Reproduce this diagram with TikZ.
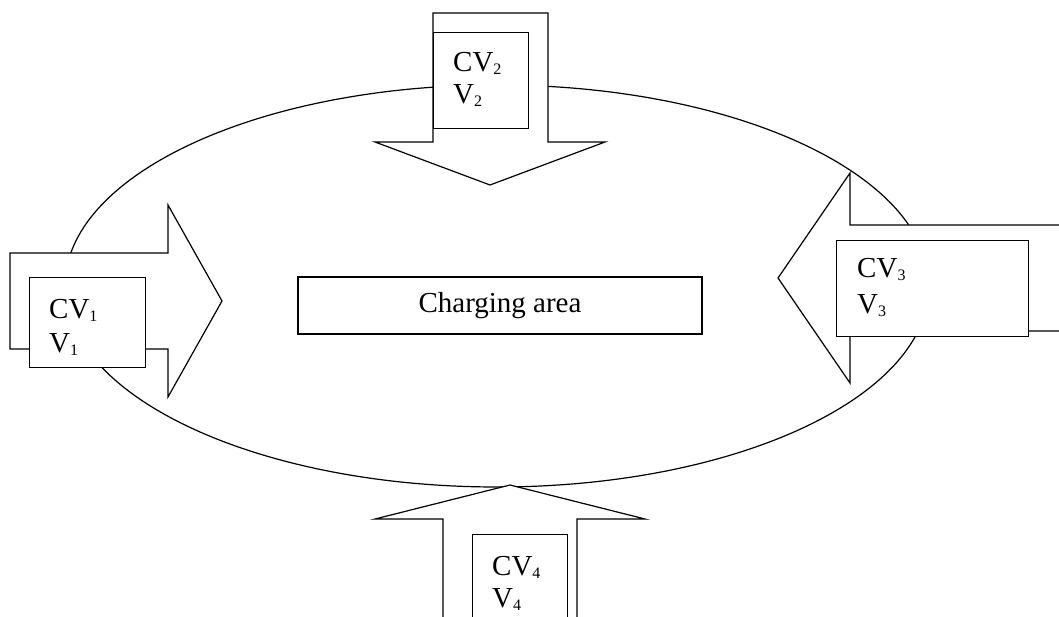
\documentclass[tikz,border=0pt]{standalone}
\usepackage{fontspec}
\setmainfont{Liberation Serif}
\newcommand\subn[1]{\raisebox{-3pt}{\fontsize{16}{16}\selectfont #1}}
\begin{document}
\begin{tikzpicture}[x=1pt,y=-1pt,line join=miter,
  outline/.style={draw=black,line width=1.2pt,fill=white},
  cvbox/.style={outline,inner sep=0pt,anchor=north west,minimum height=96pt},
  cvtext/.style={anchor=base west,inner sep=0pt,font=\fontsize{29}{34}\selectfont}]
\useasboundingbox (0,0) rectangle (1059,617);
\clip (0,0) rectangle (1059,617);
% ellipse
\draw[line width=1.2pt] (497,286) ellipse [x radius=432pt,y radius=201pt];
% arrow 1 (right)
\draw[outline] (10,253) -- (168,253) -- (168,205) -- (222,301) -- (168,397) -- (168,349) -- (10,349) -- cycle;
\node[cvbox,minimum width=116pt,minimum height=90pt] (cv1) at (29,277) {};
\node[cvtext] (cv1a) at (49,318) {CV\subn{1}};
\node[cvtext] (cv1b) at (49,352) {V\subn{1}};
% arrow 2 (down)
\draw[outline] (433,13) -- (548,13) -- (548,142) -- (605,142) -- (490,185) -- (375,142) -- (433,142) -- cycle;
\node[cvbox,minimum width=95pt] (cv2) at (433,32) {};
\node[cvtext] (cv2a) at (453,72) {CV\subn{2}};
\node[cvtext] (cv2b) at (453,104) {V\subn{2}};
% arrow 3 (left)
\draw[outline] (1070,225) -- (850,225) -- (850,173) -- (778,278) -- (850,383) -- (850,331) -- (1070,331);
\node[cvbox,minimum width=192pt] (cv3) at (836,240) {};
\node[cvtext] (cv3a) at (857,278) {CV\subn{3}};
\node[cvtext] (cv3b) at (857,313) {V\subn{3}};
% arrow 4 (up)
\draw[outline] (443,630) -- (443,519) -- (375,519) -- (510,485) -- (645,519) -- (577,519) -- (577,630);
\node[cvbox,minimum width=95pt,minimum height=100pt] (cv4) at (472,534) {};
\node[cvtext] (cv4a) at (492,575) {CV\subn{4}};
\node[cvtext] (cv4b) at (492,607) {V\subn{4}};
% charging area
\node[outline,minimum width=404pt,minimum height=57pt,inner sep=0pt,font=\fontsize{29}{34}\selectfont] (area) at (500,305.5) {Charging area};
\end{tikzpicture}
\end{document}
